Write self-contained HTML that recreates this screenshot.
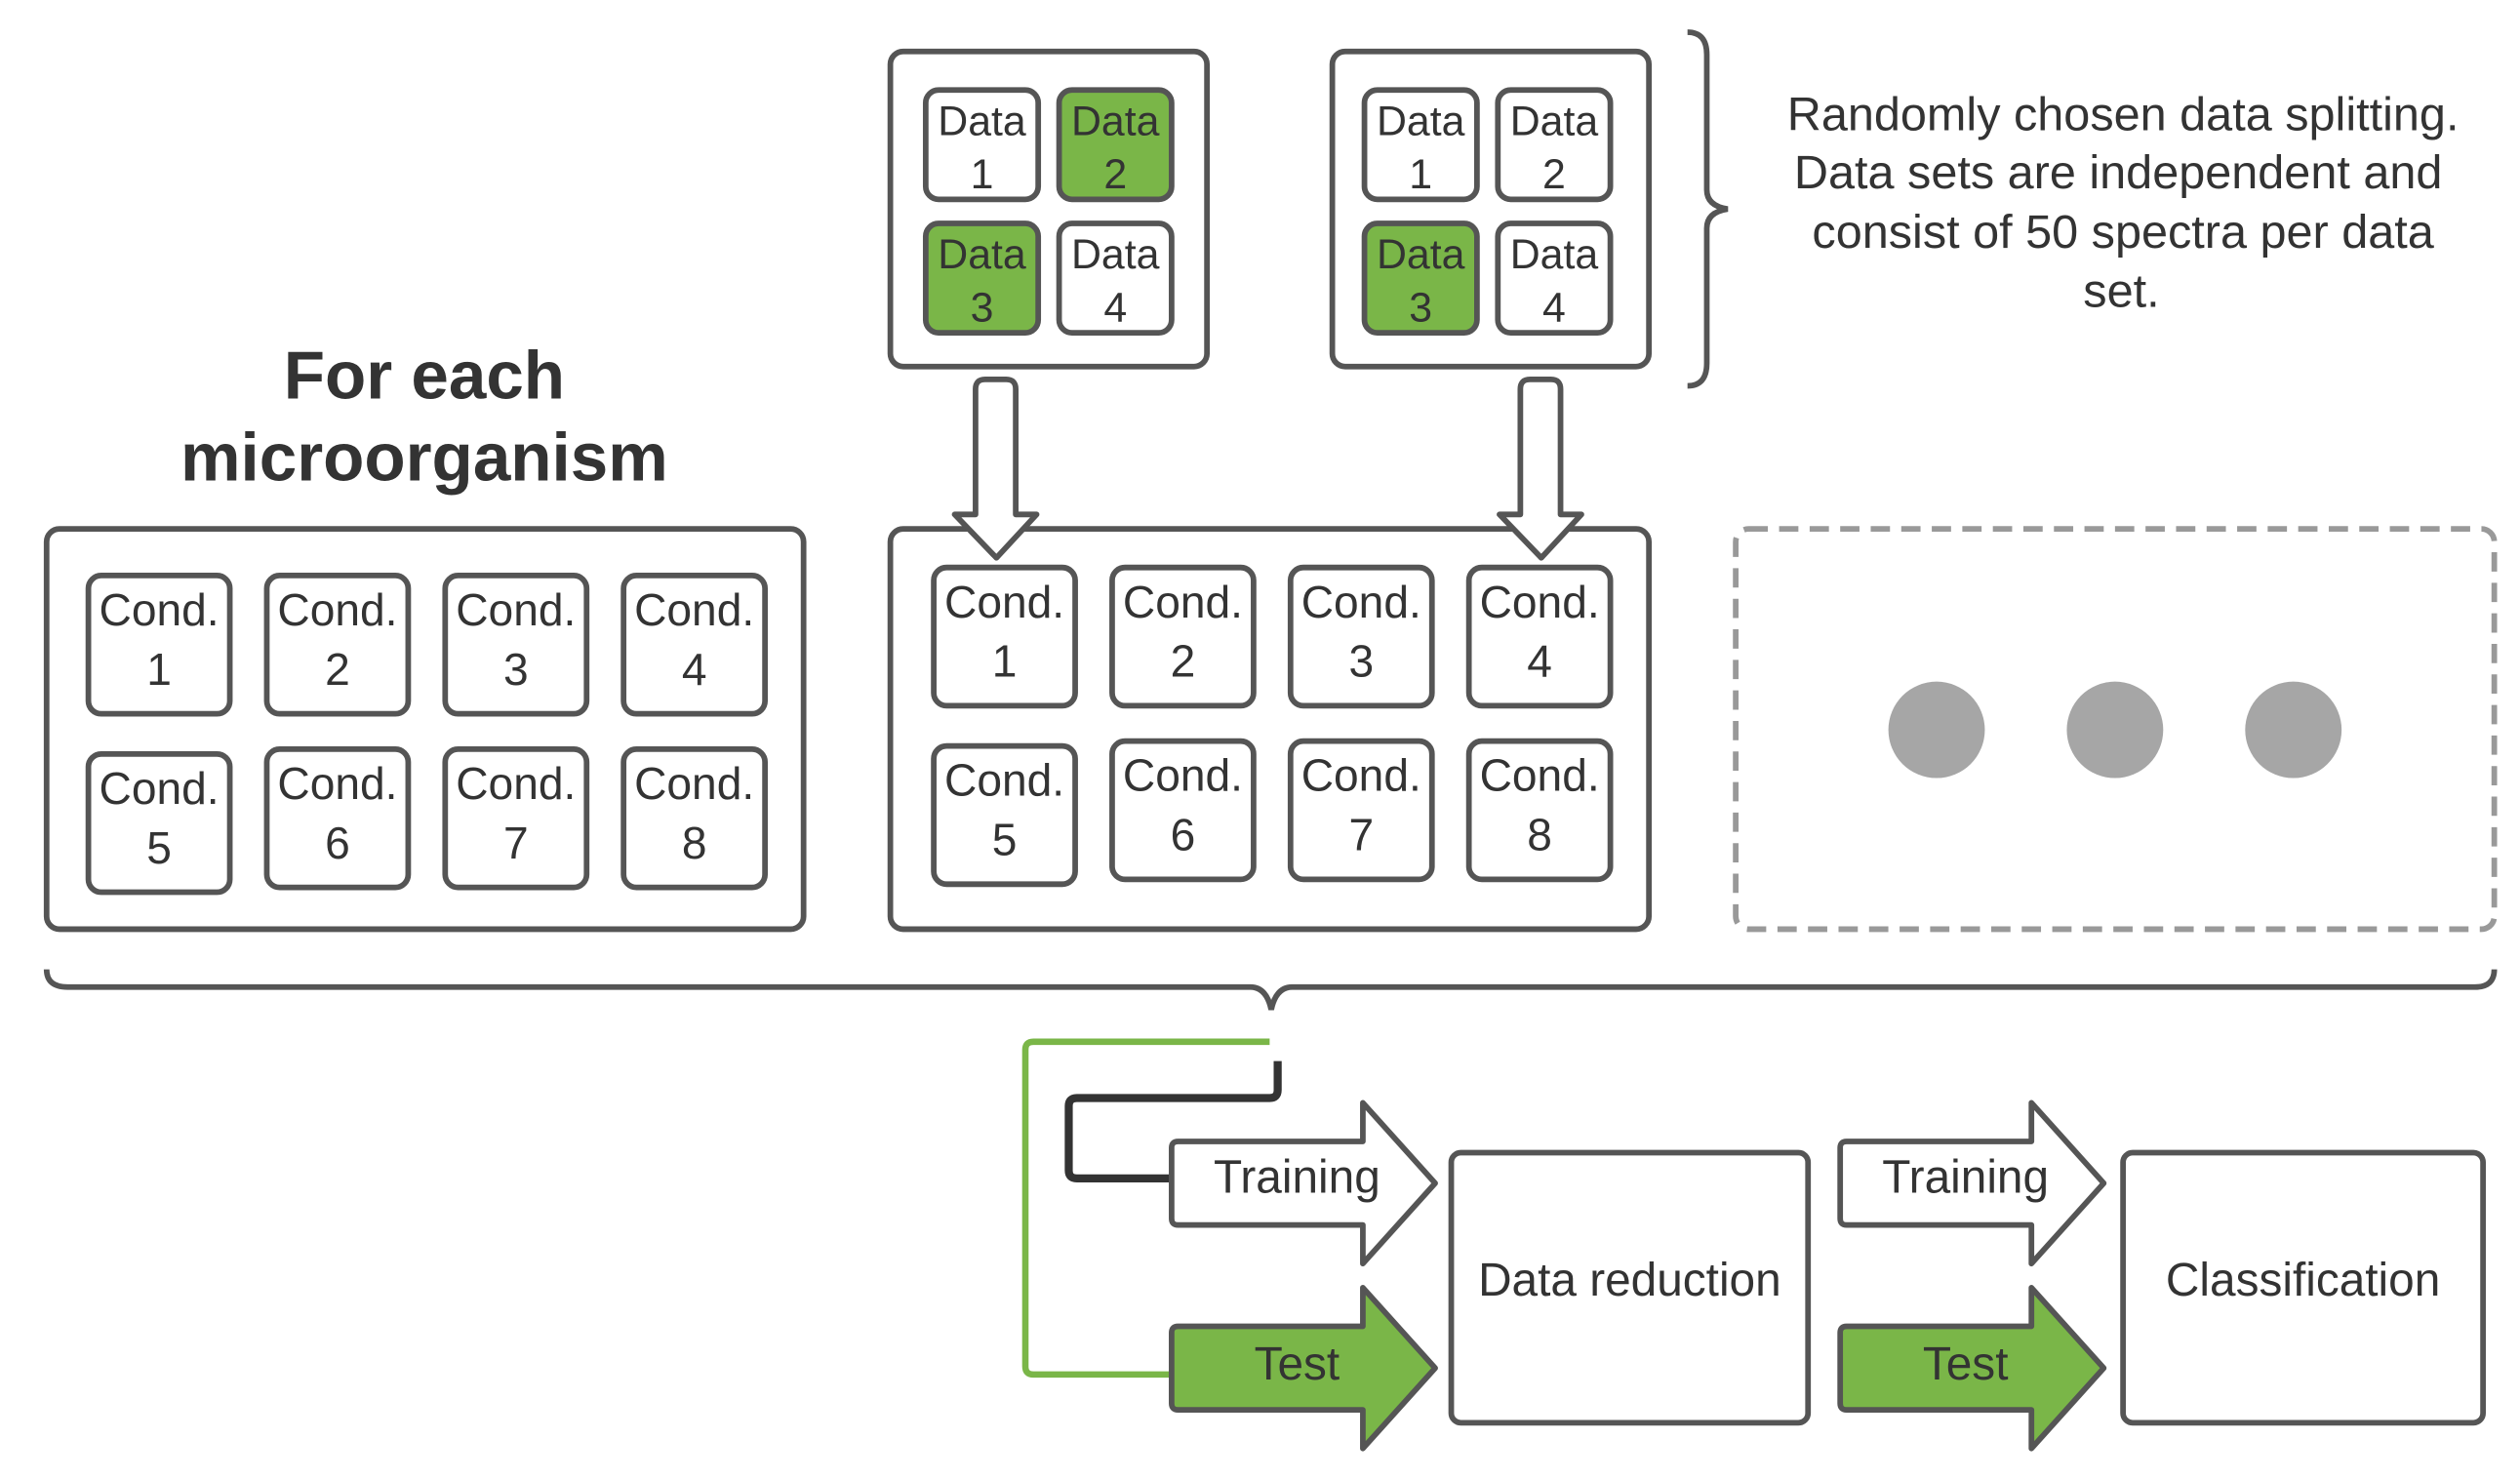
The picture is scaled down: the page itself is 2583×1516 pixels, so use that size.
<!DOCTYPE html>
<html><head><meta charset="utf-8"><style>
html,body{margin:0;padding:0;background:#fff;}
svg{display:block;}
text{font-family:"Liberation Sans",sans-serif;fill:#333;}
</style></head><body>
<svg width="2583" height="1516" viewBox="0 0 1568 920" preserveAspectRatio="none" xmlns="http://www.w3.org/2000/svg">
<defs>
<g id="cond"><rect x="0" y="0" width="88" height="86" rx="8" fill="#fff" stroke="#555" stroke-width="3.5"/></g>
</defs>
<g stroke="#555" stroke-width="3.5" fill="#fff">
<rect x="554" y="32" width="197" height="196" rx="8"/>
<rect x="829" y="32" width="197" height="196" rx="8"/>
<rect x="29" y="329" width="471" height="249" rx="8"/>
<rect x="554" y="329" width="472" height="249" rx="8"/>
<rect x="1080" y="329" width="472" height="249" rx="8" stroke="#999" stroke-dasharray="12 7"/>
</g>
<g stroke="#555" stroke-width="3.5">
<rect x="576" y="56" width="70" height="68" rx="8" fill="#fff"/>
<rect x="659" y="56" width="70" height="68" rx="8" fill="#7ab648"/>
<rect x="576" y="139" width="70" height="68" rx="8" fill="#7ab648"/>
<rect x="659" y="139" width="70" height="68" rx="8" fill="#fff"/>
<rect x="849" y="56" width="70" height="68" rx="8" fill="#fff"/>
<rect x="932" y="56" width="70" height="68" rx="8" fill="#fff"/>
<rect x="849" y="139" width="70" height="68" rx="8" fill="#7ab648"/>
<rect x="932" y="139" width="70" height="68" rx="8" fill="#fff"/>
</g>
<g font-size="26" text-anchor="middle">
<text x="611" y="84">Data</text><text x="611" y="117">1</text>
<text x="694" y="84">Data</text><text x="694" y="117">2</text>
<text x="611" y="167">Data</text><text x="611" y="200">3</text>
<text x="694" y="167">Data</text><text x="694" y="200">4</text>
<text x="884" y="84">Data</text><text x="884" y="117">1</text>
<text x="967" y="84">Data</text><text x="967" y="117">2</text>
<text x="884" y="167">Data</text><text x="884" y="200">3</text>
<text x="967" y="167">Data</text><text x="967" y="200">4</text>
</g>
<path d="M1050 20 Q1062 20 1062 34 L1062 118 Q1062 128 1075 130 Q1062 132 1062 142 L1062 226 Q1062 240 1050 240" fill="none" stroke="#555" stroke-width="3.5"/>
<g font-size="29.5" text-anchor="middle">
<text x="1321" y="81">Randomly chosen data splitting.</text>
<text x="1318" y="117">Data sets are independent and</text>
<text x="1321" y="154">consist of 50 spectra per data</text>
<text x="1320" y="191">set.</text>
</g>
<g font-size="42" font-weight="bold" text-anchor="middle">
<text x="264" y="248">For each</text>
<text x="264" y="299">microorganism</text>
</g>
<g fill="#fff" stroke="#555" stroke-width="3.5" stroke-linejoin="round">
<path d="M607 320 L607 242 Q607 236 613 236 L626 236 Q632 236 632 242 L632 320 L645 320 L620 347 L594 320 Z"/>
<path d="M946 320 L946 242 Q946 236 952 236 L965 236 Q971 236 971 242 L971 320 L984 320 L959 347 L933 320 Z"/>
</g>
<g>
<use href="#cond" x="55" y="358"/><use href="#cond" x="166" y="358"/><use href="#cond" x="277" y="358"/><use href="#cond" x="388" y="358"/>
<use href="#cond" x="55" y="469"/><use href="#cond" x="166" y="466"/><use href="#cond" x="277" y="466"/><use href="#cond" x="388" y="466"/>
<use href="#cond" x="581" y="353"/><use href="#cond" x="692" y="353"/><use href="#cond" x="803" y="353"/><use href="#cond" x="914" y="353"/>
<use href="#cond" x="581" y="464"/><use href="#cond" x="692" y="461"/><use href="#cond" x="803" y="461"/><use href="#cond" x="914" y="461"/>
</g>
<g font-size="28" text-anchor="middle">
<text x="99" y="389">Cond.</text><text x="99" y="426">1</text>
<text x="210" y="389">Cond.</text><text x="210" y="426">2</text>
<text x="321" y="389">Cond.</text><text x="321" y="426">3</text>
<text x="432" y="389">Cond.</text><text x="432" y="426">4</text>
<text x="99" y="500">Cond.</text><text x="99" y="537">5</text>
<text x="210" y="497">Cond.</text><text x="210" y="534">6</text>
<text x="321" y="497">Cond.</text><text x="321" y="534">7</text>
<text x="432" y="497">Cond.</text><text x="432" y="534">8</text>
<text x="625" y="384">Cond.</text><text x="625" y="421">1</text>
<text x="736" y="384">Cond.</text><text x="736" y="421">2</text>
<text x="847" y="384">Cond.</text><text x="847" y="421">3</text>
<text x="958" y="384">Cond.</text><text x="958" y="421">4</text>
<text x="625" y="495">Cond.</text><text x="625" y="532">5</text>
<text x="736" y="492">Cond.</text><text x="736" y="529">6</text>
<text x="847" y="492">Cond.</text><text x="847" y="529">7</text>
<text x="958" y="492">Cond.</text><text x="958" y="529">8</text>
</g>
<g fill="#a6a6a6"><circle cx="1205" cy="454" r="30"/><circle cx="1316" cy="454" r="30"/><circle cx="1427" cy="454" r="30"/></g>
<path d="M29 603 Q29 614 42 614 L778 614 Q788 614 791 628 Q794 614 804 614 L1540 614 Q1552 614 1552 603" fill="none" stroke="#555" stroke-width="3.5"/>
<path d="M790 648 L643 648 Q638 648 638 653 L638 850 Q638 855 643 855 L732 855" fill="none" stroke="#7ab648" stroke-width="4"/>
<path d="M795 660 L795 678 Q795 683 790 683 L670 683 Q665 683 665 688 L665 728 Q665 733 670 733 L732 733" fill="none" stroke="#333" stroke-width="5"/>
<g stroke="#555" stroke-width="3.5" stroke-linejoin="round">
<path d="M729 714 Q729 710 733 710 L848 710 L848 686 L893 736 L848 786 L848 762 L733 762 Q729 762 729 758 Z" fill="#fff"/>
<path d="M729 829 Q729 825 733 825 L848 825 L848 801 L893 851 L848 901 L848 877 L733 877 Q729 877 729 873 Z" fill="#7ab648"/>
<path d="M1145 714 Q1145 710 1149 710 L1264 710 L1264 686 L1309 736 L1264 786 L1264 762 L1149 762 Q1145 762 1145 758 Z" fill="#fff"/>
<path d="M1145 829 Q1145 825 1149 825 L1264 825 L1264 801 L1309 851 L1264 901 L1264 877 L1149 877 Q1145 877 1145 873 Z" fill="#7ab648"/>
<rect x="903" y="717" width="222" height="168" rx="6" fill="#fff"/>
<rect x="1321" y="717" width="224" height="168" rx="6" fill="#fff"/>
</g>
<g font-size="29" text-anchor="middle">
<text x="807" y="742">Training</text>
<text x="807" y="858">Test</text>
<text x="1223" y="742">Training</text>
<text x="1223" y="858">Test</text>
<text x="1014" y="806">Data reduction</text>
<text x="1433" y="806">Classification</text>
</g>
</svg>
</body></html>
